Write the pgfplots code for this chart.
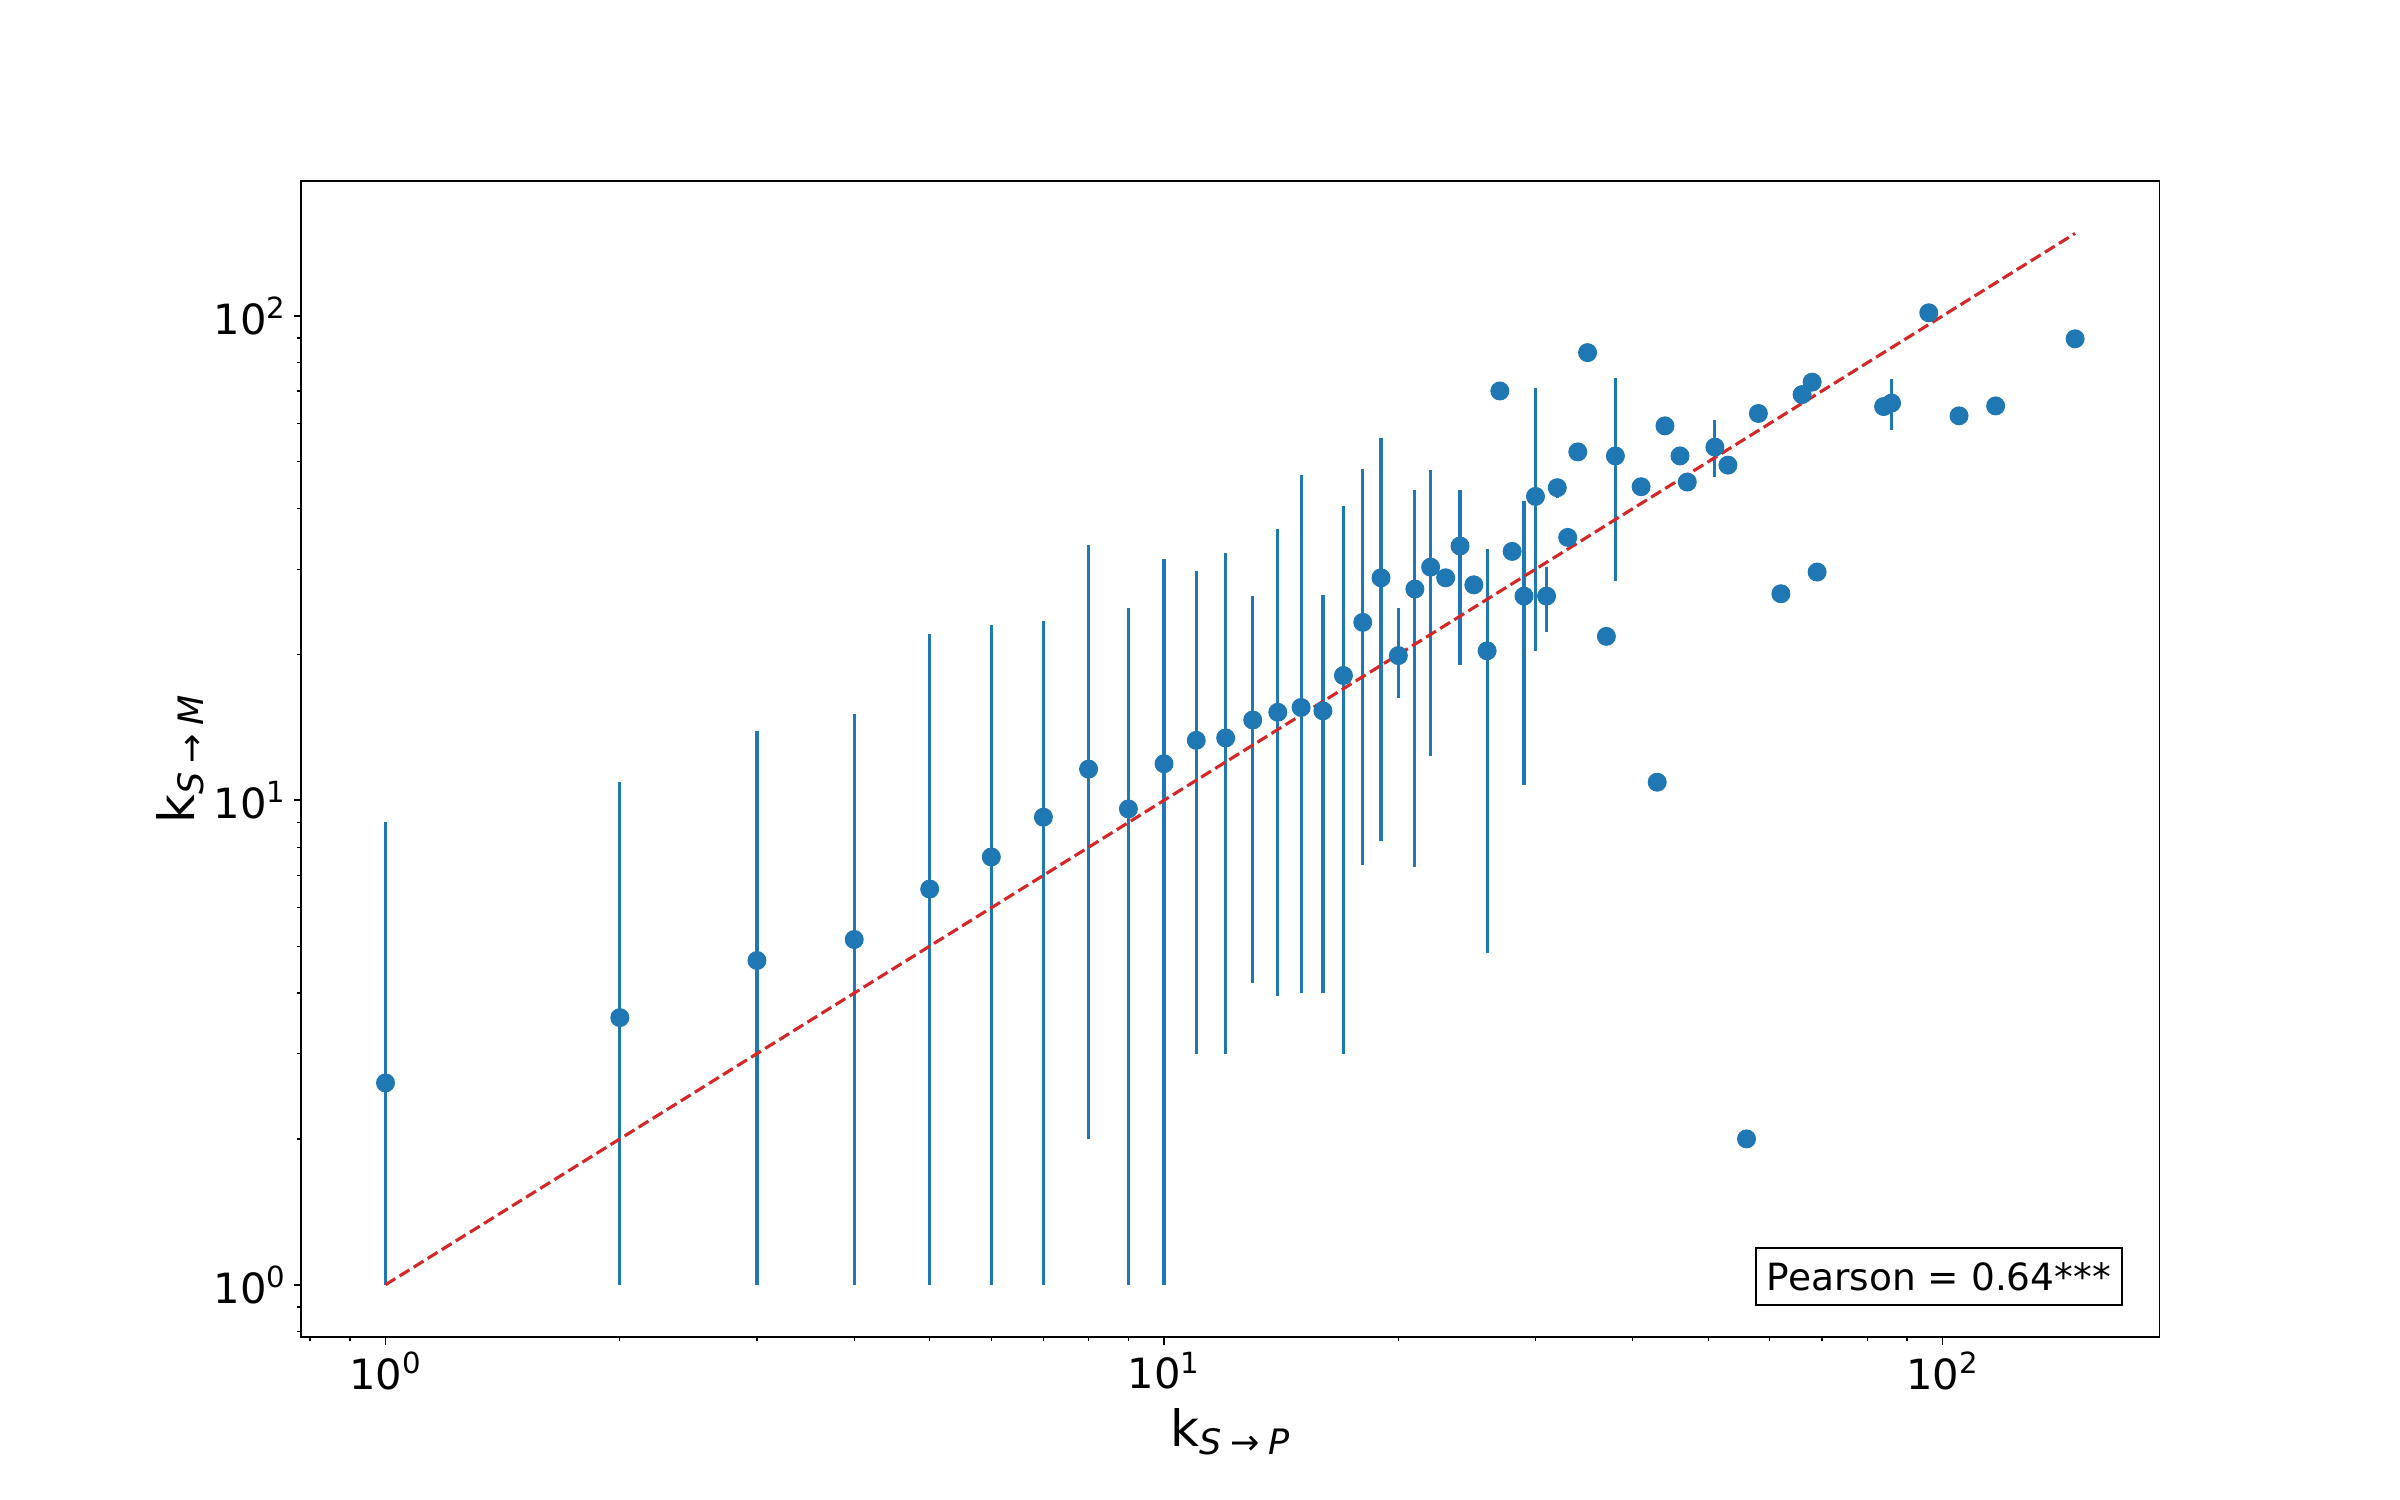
\documentclass[border=0pt]{standalone}
\usepackage{fontspec}
\setmainfont{DejaVu Sans}
\usepackage{pgfplots}
\usepackage{pgfplotstable}
\pgfplotsset{compat=1.18}
\definecolor{mblue}{HTML}{1F77B4}
\definecolor{mred}{HTML}{D62728}

\pgfplotstableread{
x y ep em
1 2.61 6.39 1.61
2 3.56 7.34 2.56
3 4.67 9.23 3.67
4 5.16 9.94 4.16
5 6.56 15.54 5.56
6 7.64 15.36 6.64
7 9.23 14.17 8.23
8 11.6 22.1 9.6
9 9.6 15.4 8.6
10 11.9 19.6 10.9
11 13.3 16.4 10.3
12 13.45 18.95 10.45
13 14.65 11.75 10.45
14 15.2 21.2 11.25
15 15.55 31.45 11.55
16 15.3 11.3 11.3
17 18.1 22.4 15.1
18 23.3 25.1 15.95
19 28.8 27.2 20.55
20 19.9 5.1 3.6
21 27.3 16.4 20.0
22 30.3 17.7 17.95
23 28.8 0 0
24 33.5 10.2 14.45
25 27.85 0 0
26 20.35 12.75 15.5
27 70 0 0
28 32.65 0 0
29 26.4 15.1 15.65
30 42.4 28.6 22.1
31 26.4 3.9 4.1
32 44.2 1.0 2.2
33 34.9 0 0
34 52.4 0 0
35 84 0 0
37 21.8 0 0
38 51.4 22.9 23.0
41 44.4 0 0
43 10.9 0 0
44 59.3 0 0
46 51.4 0 0
47 45.4 0 0
51 53.6 7.5 7.1
53 49.2 0 0
56 2.0 0 0
58 62.9 0 0
62 26.7 0 0
66 68.8 0 0
68 73 0 0
69 29.6 0 0
84 65.0 0 0
86 66.1 7.9 7.9
96 101.5 0 0
105 62.2 0 0
117 65.2 0 0
148 89.7 0 0
}\datatable

\begin{document}
\begin{tikzpicture}
\useasboundingbox (-144.5pt,-77.8pt) rectangle (1007.5pt,641.9pt);
\begin{axis}[
  at={(0,0)}, anchor=south west,
  scale only axis, width=892pt, height=555pt,
  xmode=log, ymode=log,
  xmin=0.779, xmax=189.9, ymin=0.779, ymax=189.9,
  xtick={1,10,100}, ytick={1,10,100},
  xticklabels={10\textsuperscript{0},10\textsuperscript{1},10\textsuperscript{2}},
  yticklabels={10\textsuperscript{0},10\textsuperscript{1},10\textsuperscript{2}},
  minor xtick={0.8,0.9,2,3,4,5,6,7,8,9,20,30,40,50,60,70,80,90},
  minor ytick={0.8,0.9,2,3,4,5,6,7,8,9,20,30,40,50,60,70,80,90},
  tick align=outside, tick pos=left,
  major tick length=3.5pt, minor tick length=2pt,
  every major tick/.style={black, line width=0.8pt},
  every minor tick/.style={black, line width=0.6pt},
  axis line style={line width=0.8pt},
  tick label style={font=\fontsize{20}{24}\selectfont},
  xlabel={k\textsubscript{\textit{S}\hspace{0.25em}→\hspace{0.25em}\textit{P}}},
  ylabel={k\textsubscript{\textit{S}\hspace{0.25em}→\hspace{0.25em}\textit{M}}},
  label style={font=\fontsize{24}{29}\selectfont},
  xlabel style={at={(axis description cs:0.5,-0.082)}, anchor=center},
  ylabel style={at={(axis description cs:-0.065,0.5)}, anchor=center},
  clip=false,
]
\addplot[only marks, mark=*, mark size=4.3pt, color=mblue,
  mark options={draw=mblue, fill=mblue, line width=0.5pt},
  error bars/.cd, y dir=both, y explicit,
  error bar style={line width=1.5pt, color=mblue}, error mark=none]
  table[x=x, y=y, y error plus=ep, y error minus=em]{\datatable};
\addplot[mred, line width=1.5pt, dash pattern=on 5.55pt off 2.4pt] coordinates {(1,1) (148,148)};
\node[draw=black, fill=white, line width=1pt, anchor=south east,
  font=\fontsize{18}{22}\selectfont, minimum width=176pt, minimum height=27.4pt,
  inner sep=2pt, xshift=-17.3pt, yshift=14.9pt] at (rel axis cs:1,0) {Pearson = 0.64***};
\end{axis}
\end{tikzpicture}
\end{document}
